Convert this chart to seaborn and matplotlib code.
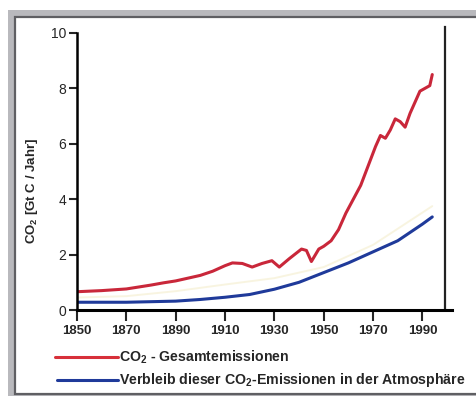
import matplotlib
matplotlib.use("Agg")
import matplotlib.pyplot as plt
from matplotlib.patches import Rectangle
import seaborn as sns
import pandas as pd

# ---- data ----
years_total = [1850, 1860, 1870, 1880, 1885, 1890, 1895, 1900, 1905, 1910, 1913,
               1917, 1921, 1925, 1929, 1932, 1936, 1941, 1943, 1945, 1948, 1950,
               1953, 1956, 1959, 1962, 1965, 1968, 1971, 1973, 1975, 1977, 1979,
               1981, 1983, 1985, 1987, 1989, 1991, 1993, 1994]
total_emissions = [0.66, 0.70, 0.76, 0.90, 0.98, 1.05, 1.15, 1.25, 1.40, 1.60, 1.70,
                   1.68, 1.55, 1.68, 1.78, 1.55, 1.85, 2.20, 2.15, 1.75, 2.20, 2.30,
                   2.50, 2.90, 3.50, 4.00, 4.50, 5.20, 5.90, 6.30, 6.20, 6.50, 6.90,
                   6.80, 6.60, 7.10, 7.50, 7.90, 8.00, 8.10, 8.50]

years_atmo = [1850, 1870, 1890, 1900, 1910, 1920, 1930, 1940, 1950, 1960, 1970,
              1980, 1990, 1994]
atmo_remaining = [0.28, 0.28, 0.32, 0.38, 0.46, 0.56, 0.75, 1.00, 1.35, 1.70, 2.10,
                  2.50, 3.10, 3.36]

years_faint = [1850, 1870, 1890, 1910, 1930, 1950, 1970, 1994]
faint_values = [0.45, 0.50, 0.68, 0.92, 1.15, 1.55, 2.35, 3.75]

x_ticks = [1850, 1870, 1890, 1910, 1930, 1950, 1970, 1990]
y_ticks = [0, 2, 4, 6, 8, 10]
legend_total = "CO$_2$ - Gesamtemissionen"
legend_atmo = "Verbleib dieser CO$_2$-Emissionen in der Atmosphäre"
y_label = "CO$_2$ [Gt C / Jahr]"

df_total = pd.DataFrame({"Jahr": years_total, "Wert": total_emissions})
df_atmo = pd.DataFrame({"Jahr": years_atmo, "Wert": atmo_remaining})
df_faint = pd.DataFrame({"Jahr": years_faint, "Wert": faint_values})

sns.set_style("white")
plt.rcParams["font.family"] = ["Liberation Sans", "DejaVu Sans"]
plt.rcParams["mathtext.fontset"] = "custom"
plt.rcParams["mathtext.rm"] = "Liberation Sans:bold"
plt.rcParams["mathtext.it"] = "Liberation Sans:bold"
plt.rcParams["mathtext.bf"] = "Liberation Sans:bold"

W, H = 477, 396
fig = plt.figure(figsize=(W / 100, H / 100), dpi=100)
fig.patch.set_facecolor("white")

def fx(px):
    return px / W

def fy(py):
    return 1 - py / H

# frame decoration
fig.patches.append(Rectangle((fx(8), 0), 1, fy(10), transform=fig.transFigure,
                             facecolor="#b9b9bd", edgecolor="none", zorder=-10))
fig.patches.append(Rectangle((fx(15), fy(394)), 1, fy(17) - fy(394), transform=fig.transFigure,
                             facecolor="white", edgecolor="#5f5f63", lw=1.6, zorder=-9))

ax = fig.add_axes([fx(77), fy(310), fx(452) - fx(77), fy(33) - fy(310)])
ax.set_facecolor("none")
ax.patch.set_alpha(0)

sns.lineplot(data=df_faint, x="Jahr", y="Wert", ax=ax, color="#f3ecc8", lw=1.4,
             alpha=0.55, legend=False)
sns.lineplot(data=df_atmo, x="Jahr", y="Wert", ax=ax, color="#1f3a9a", lw=2.2,
             legend=False)
sns.lineplot(data=df_total, x="Jahr", y="Wert", ax=ax, color="#c9273a", lw=2.2,
             legend=False)

ax.set_xlim(1850, 2002)
ax.set_ylim(0, 10)
ax.set_xticks(x_ticks)
ax.set_yticks(y_ticks)
ax.set_xticklabels([str(t) for t in x_ticks], fontsize=9.5)
ax.set_yticklabels([str(t) for t in y_ticks], fontsize=9.5)
for lbl in ax.get_xticklabels() + ax.get_yticklabels():
    lbl.set_fontweight("bold")
ax.tick_params(axis="x", direction="out", length=8, width=1.5, pad=3, bottom=True)
ax.tick_params(axis="y", direction="out", length=6, width=1.5, pad=2, left=True)
ax.set_xlabel("")
ax.set_ylabel(y_label, fontsize=9.5, fontweight="bold")
ax.yaxis.set_label_coords(-0.10, 0.43)

ax.spines["top"].set_visible(False)
ax.spines["left"].set_linewidth(1.8)
ax.spines["left"].set_color("black")
ax.spines["bottom"].set_linewidth(2.2)
ax.spines["bottom"].set_color("black")
ax.spines["right"].set_color("#222222")
ax.spines["right"].set_linewidth(1.6)
ax.spines["right"].set_position(("data", 1999))
ax.spines["right"].set_bounds(0, 10.2)

# legend below the axes
ax.plot([fx(55), fx(118)], [fy(357), fy(357)], transform=fig.transFigure,
        color="#d7303a", lw=2.2, clip_on=False)
ax.plot([fx(57), fx(118)], [fy(380), fy(380)], transform=fig.transFigure,
        color="#1f3a9a", lw=2.2, clip_on=False)
fig.text(fx(119), fy(357), legend_total, fontsize=10.2, fontweight="bold",
         va="center", ha="left")
fig.text(fx(119), fy(380), legend_atmo, fontsize=10.2, fontweight="bold",
         va="center", ha="left")

fig.savefig("out.png", dpi=100)
